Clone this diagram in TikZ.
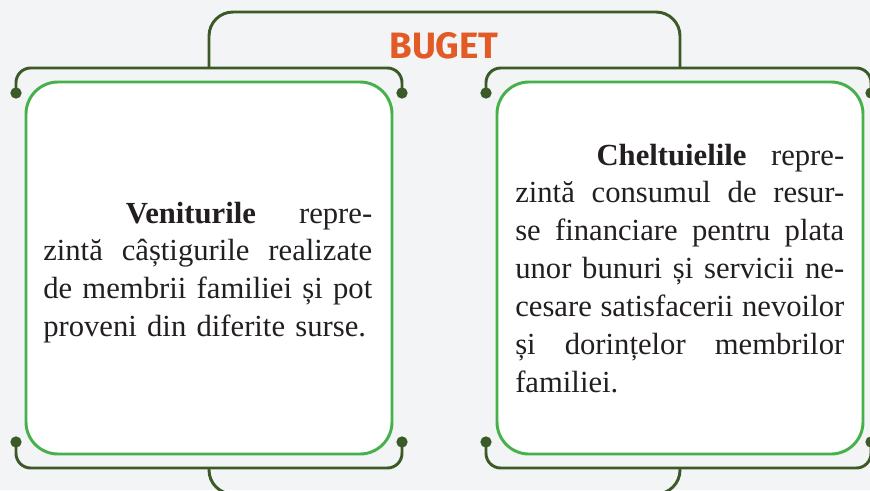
\documentclass[tikz,border=0pt]{standalone}
\usepackage{fontspec}
\setmainfont{Liberation Serif}
\newfontfamily\titlefont{Fira Sans}
\definecolor{darkgreen}{HTML}{3B5A27}
\definecolor{boxgreen}{HTML}{46B04A}
\definecolor{titleorange}{HTML}{E25A26}
\definecolor{bgcol}{HTML}{F3F4F5}
\definecolor{inkcol}{HTML}{231F20}
\newlength\tw
\setlength\tw{246.75pt}
\newcommand\jline[1]{\makebox[\tw][s]{\spaceskip=0pt\xspaceskip=0pt #1}}
\begin{document}
\begin{tikzpicture}[x=0.75pt,y=-0.75pt,
  bracket/.style={draw=darkgreen, line width=2.2pt, rounded corners=11pt},
  arch/.style={draw=darkgreen, line width=2.2pt, rounded corners=18pt},
  dot/.style={circle, fill=darkgreen, inner sep=0pt, minimum size=8.5pt},
  card/.style={draw=boxgreen, fill=white, line width=2.2pt, rounded corners=24pt,
    minimum width=274.5pt, minimum height=279pt, inner sep=0pt},
  body/.style={inner sep=0pt, text width=\tw, align=left, text=inkcol,
    font=\fontsize{23pt}{28.45pt}\selectfont},
  title/.style={text=titleorange, inner sep=0pt,
    font=\titlefont\bfseries\fontsize{27.5pt}{30pt}\selectfont}
]
\useasboundingbox (0,0) rectangle (870,490);
\clip (0,0) rectangle (870,490);
\fill[bgcol] (0,0) rectangle (870,490);

% junction coordinates
\coordinate (jtl) at (209,68);
\coordinate (jtr) at (680,68);
\coordinate (jbl) at (209,468);
\coordinate (jbr) at (680,468);
\coordinate (archtop) at (444,12);
\coordinate (archbot) at (444,494);

% dots
\node[dot] (dtl1) at (16,93) {};
\node[dot] (dtl2) at (402,93) {};
\node[dot] (dtr1) at (486,93) {};
\node[dot] (dtr2) at (871,93) {};
\node[dot] (dbl1) at (16,442) {};
\node[dot] (dbl2) at (402,442) {};
\node[dot] (dbr1) at (486,442) {};
\node[dot] (dbr2) at (871,442) {};

% brackets
\draw[bracket] (dtl1.center) |- (jtl) -| (dtl2.center);
\draw[bracket] (dtr1.center) |- (jtr) -| (dtr2.center);
\draw[bracket] (dbl1.center) |- (jbl) -| (dbl2.center);
\draw[bracket] (dbr1.center) |- (jbr) -| (dbr2.center);
\draw[arch] (jtl) |- (archtop) -| (jtr);
\draw[arch] (jbl) |- (archbot) -| (jbr);

% cards
\node[card] (cardL) at (209,268) {};
\node[card] (cardR) at (680,268) {};

% title
\node[title, anchor=base] (buget) at (444,58) {BUGET};

% texts
\node[body, anchor=base west] (venit) at (43,223) {%
\jline{\hspace*{62pt}\textbf{Veniturile} repre-}\\
\jline{zintă câștigurile realizate}\\
\jline{de membrii familiei și pot}\\
proveni din diferite surse.};

\node[body, anchor=base west] (chelt) at (515,165) {%
\jline{\hspace*{61pt}\textbf{Cheltuielile} repre-}\\
\jline{zintă consumul de resur-}\\
\jline{se financiare pentru plata}\\
\jline{unor bunuri și servicii ne-}\\
\jline{cesare satisfacerii nevoilor}\\
\jline{și dorințelor membrilor}\\
familiei.};
\end{tikzpicture}
\end{document}
